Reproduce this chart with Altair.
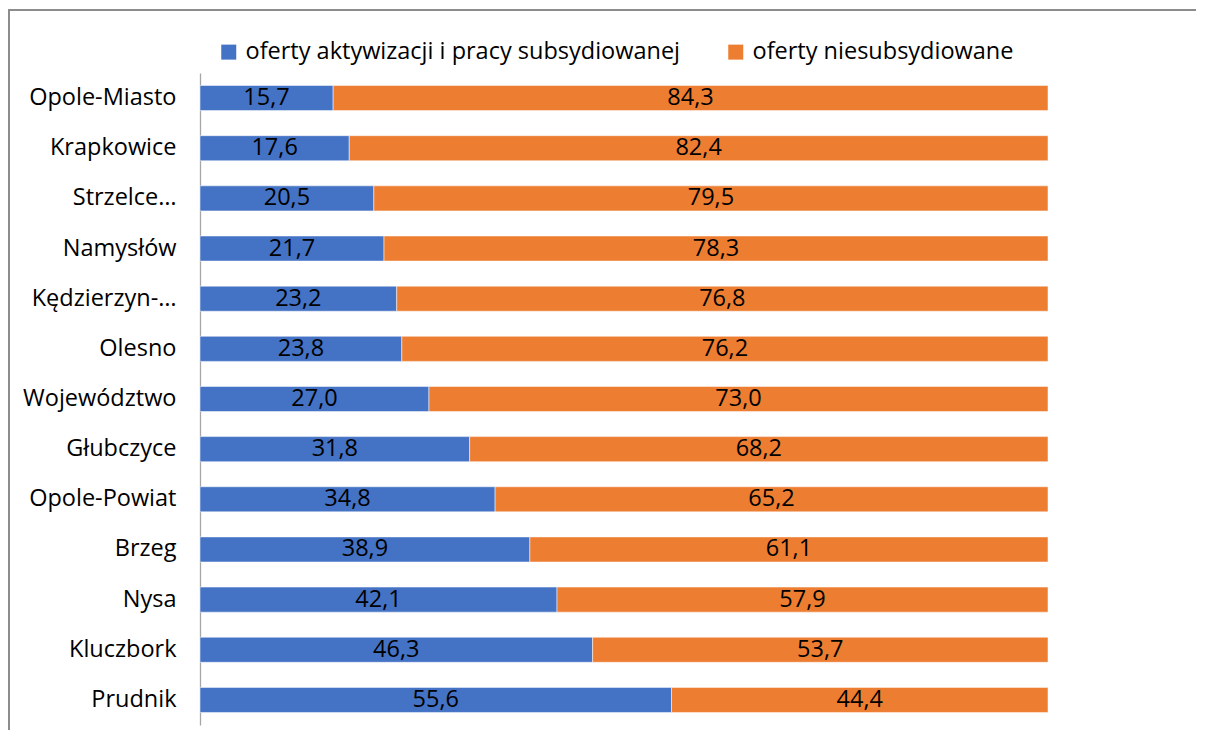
import altair as alt
import pandas as pd

categories = ["Opole-Miasto", "Krapkowice", "Strzelce…", "Namysłów ", "Kędzierzyn-…",
              "Olesno", "Województwo", "Głubczyce", "Opole-Powiat", "Brzeg", "Nysa",
              "Kluczbork", "Prudnik"]
subsidised = [15.7, 17.6, 20.5, 21.7, 23.2, 23.8, 27.0, 31.8, 34.8, 38.9, 42.1, 46.3, 55.6]
unsubsidised = [84.3, 82.4, 79.5, 78.3, 76.8, 76.2, 73.0, 68.2, 65.2, 61.1, 57.9, 53.7, 44.4]
series = ["oferty aktywizacji i pracy subsydiowanej", "oferty niesubsydiowane"]
colors = ["#4472C4", "#ED7D31"]

rows = []
for c, a, b in zip(categories, subsidised, unsubsidised):
    rows.append({"cat": c, "series": series[0], "val": a, "ord": 0,
                 "lab": f"{a:.1f}".replace(".", ",")})
    rows.append({"cat": c, "series": series[1], "val": b, "ord": 1,
                 "lab": f"{b:.1f}".replace(".", ",")})
df = pd.DataFrame(rows)

FONT = "Open Sans"
FS = 23.5

base = alt.Chart(df).transform_stack(
    stack="val", groupby=["cat"], as_=["x0", "x1"], sort=[alt.SortField("ord")]
).transform_calculate(mid="(datum.x0 + datum.x1) / 2")

yenc = alt.Y("cat:N", sort=categories, title=None,
             scale=alt.Scale(paddingInner=0.5, paddingOuter=0.25),
             axis=alt.Axis(ticks=False, domainColor="#A6A6A6", domainWidth=1.3,
                           labelFont=FONT, labelFontSize=FS, labelColor="#000000",
                           labelPadding=24, labelLimit=300))

bars = base.mark_bar(stroke="white", strokeWidth=1, strokeOpacity=0.5).encode(
    x=alt.X("x0:Q", scale=alt.Scale(domain=[0, 100], nice=False), axis=None),
    x2="x1:Q",
    y=yenc,
    color=alt.Color("series:N", scale=alt.Scale(domain=series, range=colors),
                    legend=alt.Legend(title=None, orient="none", direction="horizontal",
                                      legendX=17, legendY=-33, symbolType="square",
                                      symbolSize=225, symbolStrokeWidth=0,
                                      labelFont=FONT, labelFontSize=FS,
                                      labelColor="#000000", labelLimit=700,
                                      labelOffset=5,
                                      columnPadding=43, symbolOffset=0)),
)

labels = base.mark_text(font=FONT, fontSize=FS, color="#000000", baseline="middle").encode(
    x="mid:Q",
    y=alt.Y("cat:N", sort=categories),
    text="lab:N",
)

border_top = alt.Chart(df).mark_rule(color="#8C8C8C", strokeWidth=1.5).encode(
    x=alt.value(-192), x2=alt.value(1010), y=alt.value(-63)
)
border_left = alt.Chart(df).mark_rule(color="#8C8C8C", strokeWidth=1.5).encode(
    x=alt.value(-191.5), y=alt.value(-63), y2=alt.value(700)
)

chart = alt.layer(bars, labels, border_top, border_left).properties(
    width=848, height=652,
    padding={"left": 192, "top": 65, "right": 148, "bottom": 5},
    autosize=alt.AutoSizeParams(type="none"),
    background="white",
).configure_view(stroke=None)

chart.save("out.html", embed_options={"renderer": "svg", "actions": False})
